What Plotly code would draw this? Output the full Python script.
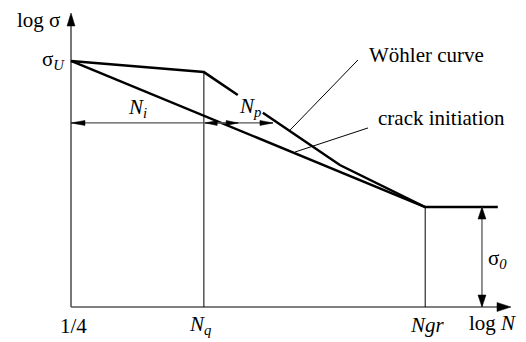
import plotly.graph_objects as go

# logical units: log N on x (0..10), log sigma on y (0..10)
x_max = 10.0
y_max = 10.0

# Woehler curve (gap where the N_p label sits)
woehler_x = [0.0, 3.02, 3.79, None, 4.36, 6.11, 8.05, 9.70]
woehler_y = [8.37, 7.99, 7.21, None, 6.61, 4.83, 3.40, 3.40]

# crack initiation line
crack_x = [0.0, 8.05]
crack_y = [8.37, 3.40]

# characteristic points
n_q = 3.02
n_gr = 8.05
sigma_knee = 7.99
sigma_0 = 3.40
sigma0_arrow_x = 9.34

# dimension arrows N_i and N_p
dim_y = 6.26
ni_x = [0.0, 3.80]
np_x = [3.05, 4.59]

# leader lines to the labels
lead_woehler_x = [4.98, 6.52]
lead_woehler_y = [6.02, 8.40]
lead_crack_x = [5.09, 6.75]
lead_crack_y = [5.27, 6.09]

# labels: text, x, y, xanchor
labels = [
	("log σ", -0.75, 9.76, "center"),
	("σ<sub><i>U</i></sub>", -0.09, 8.40, "right"),
	("1/4", 0.05, -0.65, "center"),
	("<i>N<sub>q</sub></i>", 2.93, -0.61, "center"),
	("<i>Ngr</i>", 8.11, -0.61, "center"),
	("log <i>N</i>", 9.59, -0.56, "center"),
	("σ<sub><i>0</i></sub>", 9.70, 1.63, "center"),
	("<i>N<sub>i</sub></i>", 1.52, 6.77, "center"),
	("<i>N<sub>p</sub></i>", 4.07, 6.80, "center"),
	("Wöhler curve", 8.09, 8.57, "center"),
	("crack initiation", 8.43, 6.43, "center"),
]

# page has an 8px body margin, so the figure is a bit smaller and shifted
W, H = 518, 334
ORIG_X, ORIG_Y = 63, 299      # origin position inside the figure, px
sx, sy = 44.0, 29.4           # px per unit

AXIS = "#555555"
FONT = "Liberation Serif"

fig = go.Figure()


def line(xs, ys, w, color="black"):
	fig.add_trace(go.Scatter(x=xs, y=ys, mode="lines", line=dict(color=color, width=w),
							 hoverinfo="skip", showlegend=False))


def head(xt, yt, ux, uy, length, width, color="black"):
	# filled arrow head, tip at (xt, yt), pointing along (ux, uy) in pixel space
	px, py = xt * sx, yt * sy
	bx, by = px - ux * length, py - uy * length
	nx, ny = -uy, ux
	pts = [(px, py), (bx + nx * width / 2, by + ny * width / 2),
		   (bx - nx * width / 2, by - ny * width / 2), (px, py)]
	fig.add_trace(go.Scatter(x=[p[0] / sx for p in pts], y=[p[1] / sy for p in pts],
							 mode="lines", fill="toself", fillcolor=color,
							 line=dict(color=color, width=0.5),
							 hoverinfo="skip", showlegend=False))


# axes
line([0, 0], [0, y_max - 0.3], 1.6, AXIS)
line([0, x_max - 0.2], [0, 0], 1.6, AXIS)

# verticals at N_q and N_gr
line([n_q, n_q], [0, sigma_knee], 1)
line([n_gr, n_gr], [0, sigma_0], 1)

# curves
line(woehler_x, woehler_y, 2.5)
line(crack_x, crack_y, 2.5)

# leaders
line(lead_woehler_x, lead_woehler_y, 1)
line(lead_crack_x, lead_crack_y, 1)

# dimension lines
line(ni_x, [dim_y, dim_y], 1.3, AXIS)
line(np_x, [dim_y, dim_y], 1.3, AXIS)
line([sigma0_arrow_x, sigma0_arrow_x], [0, sigma_0], 1.3, AXIS)

head(0, y_max, 0, 1, 13, 8)
head(x_max, 0, 1, 0, 14, 9)
head(ni_x[0], dim_y, -1, 0, 14, 5)
head(ni_x[1], dim_y, 1, 0, 12, 5)
head(np_x[0], dim_y, -1, 0, 12, 5)
head(np_x[1], dim_y, 1, 0, 13, 5)
head(sigma0_arrow_x, sigma_0, 0, 1, 12, 8)
head(sigma0_arrow_x, 0, 0, -1, 12, 8)

annotations = [
	dict(text=t, x=x, y=y, xref="x", yref="y", xanchor=xa, yanchor="middle",
		 showarrow=False, font=dict(family=FONT, size=21, color="black"))
	for t, x, y, xa in labels
]

fig.update_layout(
	width=W, height=H,
	margin=dict(l=0, r=0, t=0, b=0),
	paper_bgcolor="white", plot_bgcolor="white",
	xaxis=dict(range=[-ORIG_X / sx, (W - ORIG_X) / sx], visible=False, fixedrange=True),
	yaxis=dict(range=[-(H - ORIG_Y) / sy, ORIG_Y / sy], visible=False, fixedrange=True),
	annotations=annotations,
	showlegend=False,
)

fig.write_html("out.html")
